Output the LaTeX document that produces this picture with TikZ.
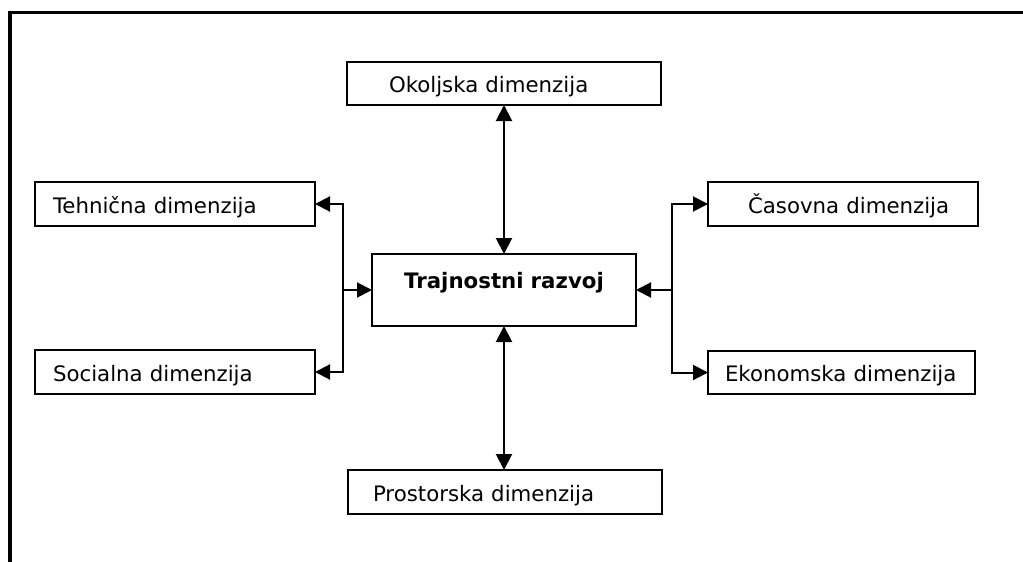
\documentclass[tikz,border=0pt]{standalone}
\usepackage{fontspec}
\setmainfont{DejaVu Sans}
\usetikzlibrary{arrows.meta}
\begin{document}
\begin{tikzpicture}[x=1pt,y=-1pt,
  box/.style={draw, line width=2pt, anchor=north west, inner xsep=0pt, inner ysep=0pt, outer sep=0pt,
    align=left, text height=22pt, text depth=4pt, font=\fontsize{21.3}{25}\selectfont},
  link/.style={line width=2pt, -{Triangle[length=15pt,width=15pt]}},
  biline/.style={line width=2pt, {Triangle[length=16pt,width=16pt]}-{Triangle[length=16pt,width=16pt]}},
  frame/.style={line width=3.4pt}]
\useasboundingbox (0,0) rectangle (1023,562);
\clip (0,0) rectangle (1023,562);
\draw[frame] (10,570) -- (10,12.5) -- (1030,12.5);

\node[box, minimum width=314pt, text width=314pt, minimum height=43pt] (okol) at (347,62) {\hspace*{42pt}Okoljska dimenzija};
\node[box, minimum width=280pt, text width=280pt, minimum height=44pt] (teh) at (35,182) {\hspace*{18pt}Tehnična dimenzija};
\node[box, minimum width=280pt, text width=280pt, minimum height=44pt] (soc) at (35,350) {\hspace*{18pt}Socialna dimenzija};
\node[box, minimum width=270pt, text width=270pt, minimum height=44pt] (cas) at (708,182) {\hspace*{40pt}Časovna dimenzija};
\node[box, minimum width=267pt, text width=267pt, minimum height=43pt] (eko) at (708,351) {\hspace*{17pt}Ekonomska dimenzija};
\node[box, minimum width=314pt, text width=314pt, minimum height=44pt] (pros) at (348,470) {\hspace*{25pt}Prostorska dimenzija};
\node[box, minimum width=264pt, text width=264pt, minimum height=72pt, align=center,
  text height=16pt, text depth=20pt, font=\fontsize{21.3}{25}\selectfont\bfseries] (traj) at (372,254) {Trajnostni razvoj};

\coordinate (lj) at (343,290);
\coordinate (rj) at (672,290);

\draw[biline] (okol.south) -- (traj.north);
\draw[biline] (traj.south) -- (traj.south |- pros.north);
\draw[link] (lj) |- (teh.east);
\draw[link] (lj) |- (soc.east);
\draw[link] (lj) -- (traj.west);
\draw[link] (rj) |- (cas.west);
\draw[link] (rj) |- (eko.west);
\draw[link] (rj) -- (traj.east);
\end{tikzpicture}
\end{document}
